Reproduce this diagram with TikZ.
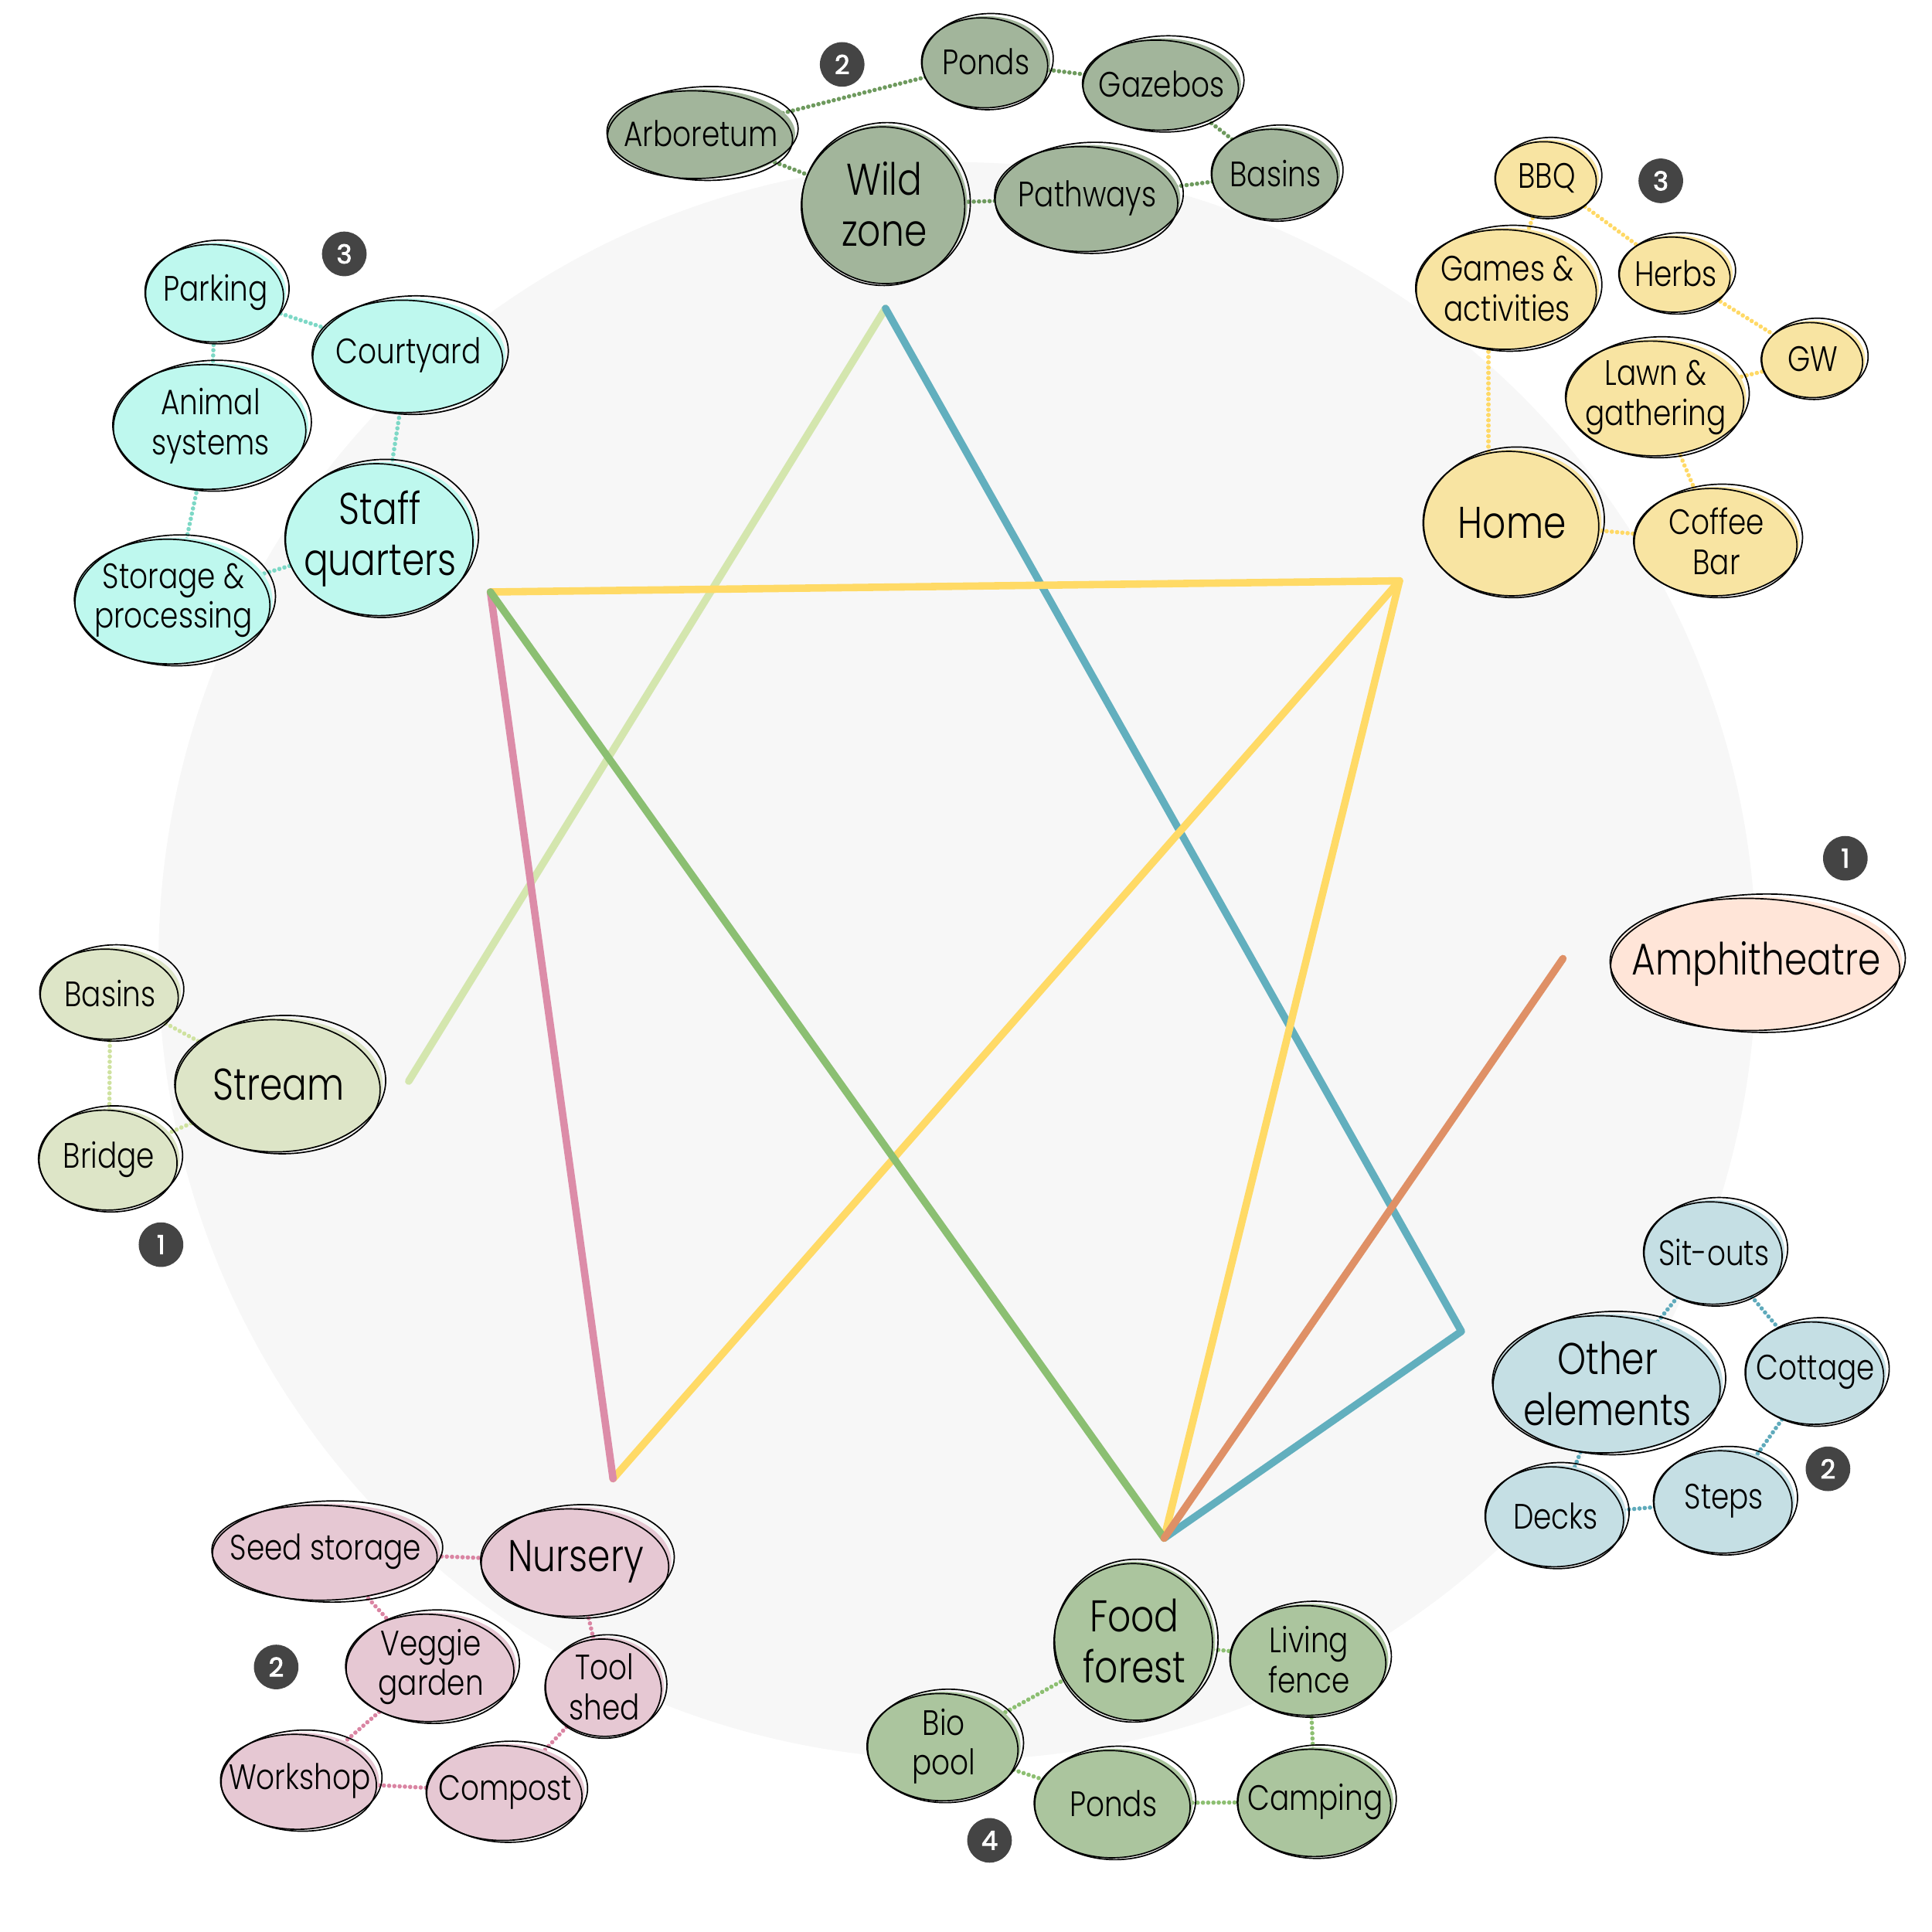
\documentclass[tikz,border=0pt]{standalone}
\usepackage{fontspec}
\setmainfont{Poppins}[UprightFont=* Light, BoldFont=*, FakeStretch=0.82]
\newfontfamily\badgefont{Poppins}[FakeBold=2.5]
\pgfdeclarelayer{back}
\pgfdeclarelayer{conn}
\pgfsetlayers{back,conn,main}
\definecolor{bgcircle}{HTML}{F7F7F7}
\definecolor{cwild}{HTML}{A2B59B}
\definecolor{chome}{HTML}{F8E4A2}
\definecolor{cstaff}{HTML}{BEF8EE}
\definecolor{cstream}{HTML}{DDE5C7}
\definecolor{camph}{HTML}{FFE5D8}
\definecolor{cother}{HTML}{C5DFE4}
\definecolor{cnurs}{HTML}{E6C8D3}
\definecolor{cfood}{HTML}{ABC59E}
\definecolor{kwild}{HTML}{6E9A5E}
\definecolor{khome}{HTML}{FFD966}
\definecolor{kstaff}{HTML}{7DD8C6}
\definecolor{kstream}{HTML}{CFE2A0}
\definecolor{kother}{HTML}{5FAABB}
\definecolor{knurs}{HTML}{DA85A3}
\definecolor{kfood}{HTML}{8DBF72}
\definecolor{llgreen}{HTML}{D4E6AE}
\definecolor{lteal}{HTML}{62AFBE}
\definecolor{lyellow}{HTML}{FFDA66}
\definecolor{lpink}{HTML}{DC8CA8}
\definecolor{lgreen}{HTML}{8BBF72}
\definecolor{lorange}{HTML}{DF9066}
\definecolor{badgegray}{HTML}{444444}
\tikzset{
  sketchline/.style={draw=black, line width=0.3pt},
  smalltxt/.style={inner sep=0pt, align=center, font=\fontsize{8.1}{9.1}\selectfont},
  bigtxt/.style={inner sep=0pt, align=center, font=\fontsize{10.2}{11.7}\selectfont},
  badge/.style={circle, fill=badgegray, text=white, minimum size=3.6mm, inner sep=0pt, font=\fontsize{6}{6}\selectfont\badgefont},
  dotc/.style={line width=1pt, line cap=round, dash pattern=on 0.01pt off 1.2pt},
  mainline/.style={line width=1.7pt, line cap=round, line join=round},
}
\newcommand\blob[9]{%
  \fill[#6] (#2,#3) ellipse [x radius=#4, y radius=#5];
  \draw[sketchline] (#2+1.5,#3-1) ellipse [x radius=#4+1, y radius=#5+1, rotate=#9];
  \draw[sketchline] (#2-1,#3+1.5) ellipse [x radius=#4-1, y radius=#5, rotate=-#9];
  \node[#7] (#1) at (#2,#3) {#8};
}
\begin{document}
\begin{tikzpicture}[x=0.1mm, y=-0.1mm]
\useasboundingbox (0,0) rectangle (1560,1560);
\begin{pgfonlayer}{back}
  \fill[bgcircle] (773,776) circle [radius=645];
\end{pgfonlayer}

% main star lines
\coordinate (pA) at (715,249);
\coordinate (pB) at (396,478);
\coordinate (pC) at (1130,469);
\coordinate (pD) at (330,873);
\coordinate (pE) at (1262,774);
\coordinate (pF) at (1180,1075);
\coordinate (pG) at (940,1242);
\coordinate (pH) at (495,1194);
\draw[mainline, llgreen] (pA) -- (pD);
\draw[mainline, lteal] (pA) -- (pF) -- (pG);
\draw[mainline, lyellow] (pB) -- (pC);
\draw[mainline, lyellow] (pC) -- (pH);
\draw[mainline, lyellow] (pC) -- (pG);
\draw[mainline, lpink] (pB) -- (pH);
\draw[mainline, lgreen] (pB) -- (pG);
\draw[mainline, lorange] (pG) -- (pE);

% Wild zone group
\blob{arb}{566}{108}{76}{36}{cwild}{smalltxt}{Arboretum}{3}
\blob{pondsA}{796}{50}{52}{37}{cwild}{smalltxt}{Ponds}{4}
\blob{gaz}{938}{68}{64}{37}{cwild}{smalltxt}{Gazebos}{3}
\blob{basA}{1030}{140}{52}{37}{cwild}{smalltxt}{Basins}{4}
\blob{path}{878}{160}{75}{43}{cwild}{smalltxt}{Pathways}{3}
\blob{wild}{714}{165}{67}{64}{cwild}{bigtxt}{Wild\\zone}{5}
\node[badge] (bw) at (680,52) {2};

% Home group
\blob{bbq}{1249}{144}{42}{31}{chome}{smalltxt}{BBQ}{4}
\blob{games}{1217}{233}{74}{49}{chome}{smalltxt}{Games \&\\activities}{3}
\blob{herbs}{1353}{221}{46}{31}{chome}{smalltxt}{Herbs}{4}
\blob{gw}{1464}{290}{42}{31}{chome}{smalltxt}{GW}{4}
\blob{lawn}{1337}{321}{73}{47}{chome}{smalltxt}{Lawn \&\\gathering}{3}
\blob{home}{1221}{422}{72}{59}{chome}{bigtxt}{Home}{4}
\blob{coffee}{1386}{437}{67}{44}{chome}{smalltxt}{Coffee\\Bar}{3}
\node[badge] (bh) at (1341,146) {3};

% Staff group
\blob{park}{174}{236}{57}{40}{cstaff}{smalltxt}{Parking}{4}
\blob{court}{330}{287}{78}{46}{cstaff}{smalltxt}{Courtyard}{3}
\blob{animal}{170}{344}{79}{51}{cstaff}{smalltxt}{Animal\\systems}{3}
\blob{staff}{307}{435}{77}{62}{cstaff}{bigtxt}{Staff\\quarters}{4}
\blob{storage}{140}{485}{80}{51}{cstaff}{smalltxt}{Storage \&\\processing}{3}
\node[badge] (bs) at (278,205) {3};

% Stream group
\blob{basB}{89}{802}{57}{37}{cstream}{smalltxt}{Basins}{4}
\blob{stream}{225}{876}{84}{54}{cstream}{bigtxt}{Stream}{3}
\blob{bridge}{88}{936}{57}{41}{cstream}{smalltxt}{Bridge}{4}
\node[badge] (bst) at (130,1005) {1};

% Amphitheatre
\blob{amph}{1418}{778}{118}{54}{camph}{bigtxt}{Amphitheatre}{2}
\node[badge] (ba) at (1490,693) {1};

% Other elements group
\blob{sit}{1384}{1011}{57}{42}{cother}{smalltxt}{Sit-outs}{4}
\blob{other}{1298}{1117}{93}{56}{cother}{bigtxt}{Other\\elements}{3}
\blob{cott}{1466}{1108}{57}{42}{cother}{smalltxt}{Cottage}{4}
\blob{decks}{1256}{1224}{57}{41}{cother}{smalltxt}{Decks}{4}
\blob{steps}{1392}{1212}{57}{42}{cother}{smalltxt}{Steps}{4}
\node[badge] (bo) at (1476,1186) {2};

% Nursery group
\blob{seed}{263}{1253}{92}{39}{cnurs}{smalltxt}{Seed storage}{2}
\blob{nurs}{465}{1261}{77}{44}{cnurs}{bigtxt}{Nursery}{3}
\blob{veg}{348}{1346}{69}{44}{cnurs}{smalltxt}{Veggie\\garden}{3}
\blob{tool}{488}{1362}{48}{40}{cnurs}{smalltxt}{Tool\\shed}{4}
\blob{work}{242}{1438}{64}{39}{cnurs}{smalltxt}{Workshop}{3}
\blob{comp}{408}{1447}{64}{39}{cnurs}{smalltxt}{Compost}{3}
\node[badge] (bn) at (223,1346) {2};

% Food forest group
\blob{food}{916}{1325}{65}{64}{cfood}{bigtxt}{Food\\forest}{5}
\blob{live}{1057}{1340}{64}{45}{cfood}{smalltxt}{Living\\fence}{3}
\blob{bio}{762}{1410}{62}{44}{cfood}{smalltxt}{Bio\\pool}{3}
\blob{pondsB}{899}{1456}{64}{44}{cfood}{smalltxt}{Ponds}{3}
\blob{camp}{1062}{1455}{63}{44}{cfood}{smalltxt}{Camping}{3}
\node[badge] (bf) at (799,1486) {4};

% dotted connectors
\begin{pgfonlayer}{conn}
  \draw[dotc, kwild] (arb.center) -- (pondsA.center);
  \draw[dotc, kwild] (arb.center) -- (wild.center);
  \draw[dotc, kwild] (pondsA.center) -- (gaz.center);
  \draw[dotc, kwild] (gaz.center) -- (basA.center);
  \draw[dotc, kwild] (path.center) -- (basA.center);
  \draw[dotc, kwild] (wild.center) -- (path.center);
  \draw[dotc, khome] (bbq.center) -- (games.center);
  \draw[dotc, khome] (bbq.center) -- (herbs.center);
  \draw[dotc, khome] (herbs.center) -- (gw.center);
  \draw[dotc, khome] (gw.center) -- (lawn.center);
  \draw[dotc, khome] ([xshift=-1.5mm]games.center) -- ([xshift=-1.5mm]games.center |- home.center);
  \draw[dotc, khome] (lawn.center) -- (coffee.center);
  \draw[dotc, khome] (home.center) -- (coffee.center);
  \draw[dotc, kstaff] (park.center) -- (court.center);
  \draw[dotc, kstaff] (park.center) -- (animal.center);
  \draw[dotc, kstaff] (court.center) -- (staff.center);
  \draw[dotc, kstaff] (animal.center) -- (storage.center);
  \draw[dotc, kstaff] (storage.center) -- (staff.center);
  \draw[dotc, kstream] (basB.center) -- (stream.center);
  \draw[dotc, kstream] (basB.center) -- (bridge.center);
  \draw[dotc, kstream] (bridge.center) -- (stream.center);
  \draw[dotc, kother] (sit.center) -- (other.center);
  \draw[dotc, kother] (sit.center) -- (cott.center);
  \draw[dotc, kother] (cott.center) -- (steps.center);
  \draw[dotc, kother] (other.center) -- (decks.center);
  \draw[dotc, kother] (decks.center) -- (steps.center);
  \draw[dotc, knurs] (seed.center) -- (nurs.center);
  \draw[dotc, knurs] (seed.center) -- (veg.center);
  \draw[dotc, knurs] (nurs.center) -- (tool.center);
  \draw[dotc, knurs] (veg.center) -- (work.center);
  \draw[dotc, knurs] (work.center) -- (comp.center);
  \draw[dotc, knurs] (comp.center) -- (tool.center);
  \draw[dotc, kfood] (food.center) -- (live.center);
  \draw[dotc, kfood] (food.center) -- (bio.center);
  \draw[dotc, kfood] (bio.center) -- (pondsB.center);
  \draw[dotc, kfood] (pondsB.center) -- (camp.center);
  \draw[dotc, kfood] (live.center) -- (camp.center);
\end{pgfonlayer}
\end{tikzpicture}
\end{document}
